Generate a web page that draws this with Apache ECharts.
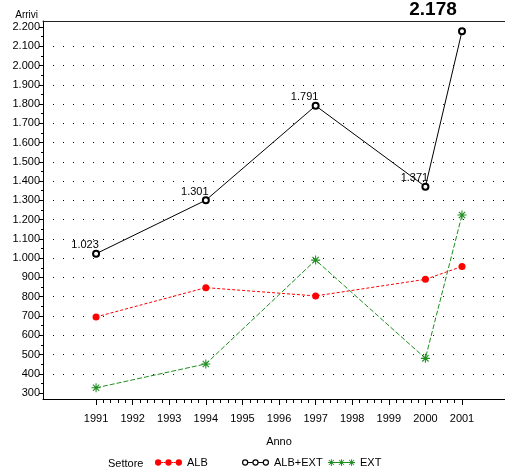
<!DOCTYPE html>
<html>
<head>
<meta charset="utf-8">
<script src="https://cdn.jsdelivr.net/npm/echarts@6/dist/echarts.min.js"></script>
<style>html,body{margin:0;padding:0;background:#fff;overflow:hidden;}#c{width:505px;height:471px;}</style>
</head>
<body>
<div id="c"></div>
<script>
// ---- data ----
var years = [1991, 1994, 1997, 2000, 2001];
var albValues = [695, 847, 804, 890, 957];
var totValues = [1023, 1301, 1791, 1371, 2178];
var extValues = [327, 451, 990, 480, 1224];
var seriesNames = ['ALB', 'ALB+EXT', 'EXT'];
var xTickLabels = [1991, 1992, 1993, 1994, 1995, 1996, 1997, 1998, 1999, 2000, 2001];
var yTickLabels = [300, 400, 500, 600, 700, 800, 900, 1000, 1100, 1200, 1300, 1400, 1500, 1600, 1700, 1800, 1900, 2000, 2100, 2200];
var xMinorTicks = [];
var yMinorTicks = [350, 450, 550, 650, 750, 850, 950, 1050, 1150, 1250, 1350, 1450, 1550, 1650, 1750, 1850, 1950, 2050, 2150];
(function () {
  for (var i = 0; i < xTickLabels.length - 1; i++) {
    for (var k = 1; k < 5; k++) xMinorTicks.push(+(xTickLabels[i] + k * 0.2).toFixed(1));
  }
})();

var FONT = "'Liberation Sans', Arial, sans-serif";
function fmt(v) { return String(v).replace(/\B(?=(\d{3})+(?!\d))/g, '.'); }
function pairs(vals) { return years.map(function (y, i) { return [y, vals[i]]; }); }

var starPath = 'path://M0,4.4H10V5.6H0Z M4.4,0H5.6V10H4.4Z M1.08,1.92L1.92,1.08L8.92,8.08L8.08,8.92Z M8.08,1.08L8.92,1.92L1.92,8.92L1.08,8.08Z';
var legDots = 'path://M0.3,3.5a3.2,3.2 0 1,0 6.4,0a3.2,3.2 0 1,0 -6.4,0Z M10.8,3.5a3.2,3.2 0 1,0 6.4,0a3.2,3.2 0 1,0 -6.4,0Z M21.3,3.5a3.2,3.2 0 1,0 6.4,0a3.2,3.2 0 1,0 -6.4,0Z M6.5,3H8.5V4H6.5Z M9,3H11V4H9Z M17,3H19V4H17Z M19.5,3H21.5V4H19.5Z';
var legRings = 'path://M0.3,3.5a3.2,3.2 0 1,0 6.4,0a3.2,3.2 0 1,0 -6.4,0Z M1.5,3.5a2,2 0 1,1 4,0a2,2 0 1,1 -4,0Z M10.8,3.5a3.2,3.2 0 1,0 6.4,0a3.2,3.2 0 1,0 -6.4,0Z M12,3.5a2,2 0 1,1 4,0a2,2 0 1,1 -4,0Z M21.3,3.5a3.2,3.2 0 1,0 6.4,0a3.2,3.2 0 1,0 -6.4,0Z M22.5,3.5a2,2 0 1,1 4,0a2,2 0 1,1 -4,0Z M6.6,3H10.9V4H6.6Z M17.1,3H21.4V4H17.1Z';
var legStars = 'path://M0,3H7V4H0Z M3,0H4V7H3Z M0.6,1.2L1.2,0.6L6.4,5.8L5.8,6.4Z M5.8,0.6L6.4,1.2L1.2,6.4L0.6,5.8Z M10.5,3H17.5V4H10.5Z M13.5,0H14.5V7H13.5Z M11.1,1.2L11.7,0.6L16.9,5.8L16.3,6.4Z M16.3,0.6L16.9,1.2L11.7,6.4L11.1,5.8Z M21,3H28V4H21Z M24,0H25V7H24Z M21.6,1.2L22.2,0.6L27.4,5.8L26.8,6.4Z M26.8,0.6L27.4,1.2L22.2,6.4L21.6,5.8Z M7,3H10.5V4H7Z M17.5,3H21V4H17.5Z';

var X_MIN = 1989.55, X_MAX = 2002.175, Y_MIN = 269, Y_MAX = 2231;

function legendAt(left, idx, icon) {
  return {
    left: left, top: 457, itemWidth: 27, itemHeight: 7, itemGap: 0, padding: 0,
    textStyle: { fontFamily: FONT, fontSize: 11, color: '#000' },
    data: [{ name: seriesNames[idx], icon: icon }]
  };
}

var chart = echarts.init(document.getElementById('c'), null, { renderer: 'canvas' });
chart.setOption({
  animation: false,
  backgroundColor: '#fff',
  textStyle: { fontFamily: FONT, color: '#000' },
  grid: { left: 43, top: 21, right: 0, bottom: 72, show: false, containLabel: false },
  graphic: [{
    type: 'text', x: 108, y: 464,
    style: { text: 'Settore', fontFamily: FONT, fontSize: 11, fill: '#000', verticalAlign: 'middle' }
  }],
  legend: [legendAt(155, 0, legDots), legendAt(242, 1, legRings), legendAt(328, 2, legStars)],
  xAxis: [{
    type: 'value', min: X_MIN, max: X_MAX, position: 'bottom',
    name: 'Anno', nameLocation: 'middle', nameGap: 37,
    nameTextStyle: { fontFamily: FONT, fontSize: 11, color: '#000', padding: [0, 0, 0, 10] },
    axisLine: { show: true, onZero: false, lineStyle: { color: '#000', width: 1 } },
    axisTick: { show: true, length: 6, customValues: xTickLabels, lineStyle: { color: '#000' } },
    axisLabel: { customValues: xTickLabels, margin: 14, fontFamily: FONT, fontSize: 11, color: '#000', formatter: function (v) { return String(v); } },
    splitLine: { show: false }
  }, {
    type: 'value', min: X_MIN, max: X_MAX, position: 'bottom',
    axisLine: { show: false, onZero: false },
    axisTick: { show: true, length: 4, customValues: xMinorTicks, lineStyle: { color: '#000' } },
    axisLabel: { show: false },
    splitLine: { show: false }
  }, {
    type: 'value', min: X_MIN, max: X_MAX, position: 'top',
    axisLine: { show: true, onZero: false, lineStyle: { color: '#222', width: 1 } },
    axisTick: { show: false },
    axisLabel: { show: false },
    splitLine: { show: false }
  }],
  yAxis: [{
    type: 'value', min: Y_MIN, max: Y_MAX, splitNumber: 20, position: 'left',
    name: 'Arrivi', nameLocation: 'end', nameGap: 1,
    nameTextStyle: { fontFamily: FONT, fontSize: 10, color: '#000', align: 'right', padding: [0, 5, 0, 0] },
    axisLine: { show: true, onZero: false, lineStyle: { color: '#000', width: 1 } },
    axisTick: { show: true, length: 4, customValues: yTickLabels, lineStyle: { color: '#000' } },
    axisLabel: { customValues: yTickLabels, margin: 3, fontFamily: FONT, fontSize: 11, color: '#000', formatter: fmt },
    splitLine: { show: true, showMinLine: false, showMaxLine: false, lineStyle: { color: '#000', width: 1, type: [1, 9], dashOffset: 0 } }
  }, {
    type: 'value', min: Y_MIN, max: Y_MAX, position: 'left',
    axisLine: { show: false, onZero: false },
    axisTick: { show: true, length: 2, customValues: yMinorTicks, lineStyle: { color: '#000' } },
    axisLabel: { show: false },
    splitLine: { show: false }
  }],
  series: [{
    name: seriesNames[0], type: 'line', data: pairs(albValues),
    symbol: 'circle', symbolSize: 7,
    itemStyle: { color: '#ff0000' },
    lineStyle: { color: '#ff0000', width: 1, type: [3, 2] }
  }, {
    name: seriesNames[1], type: 'line', data: pairs(totValues).map(function (p, i) {
      if (i === years.length - 1) {
        return { value: p, label: { fontSize: 19, fontWeight: 'bold', offset: [-29, -9] } };
      }
      return p;
    }),
    symbol: 'emptyCircle', symbolSize: 6,
    itemStyle: { color: '#000', borderWidth: 1.3 },
    lineStyle: { color: '#000', width: 1 },
    label: { show: true, position: 'top', distance: -1, offset: [-11, 0], fontFamily: FONT, fontSize: 11, color: '#000',
      formatter: function (p) { return fmt(p.value[1]); } }
  }, {
    name: seriesNames[2], type: 'line', data: pairs(extValues),
    symbol: starPath, symbolSize: 9,
    itemStyle: { color: '#1f8f1f' },
    lineStyle: { color: '#1f8f1f', width: 1, type: [5, 2] }
  }]
});
</script>
</body>
</html>
